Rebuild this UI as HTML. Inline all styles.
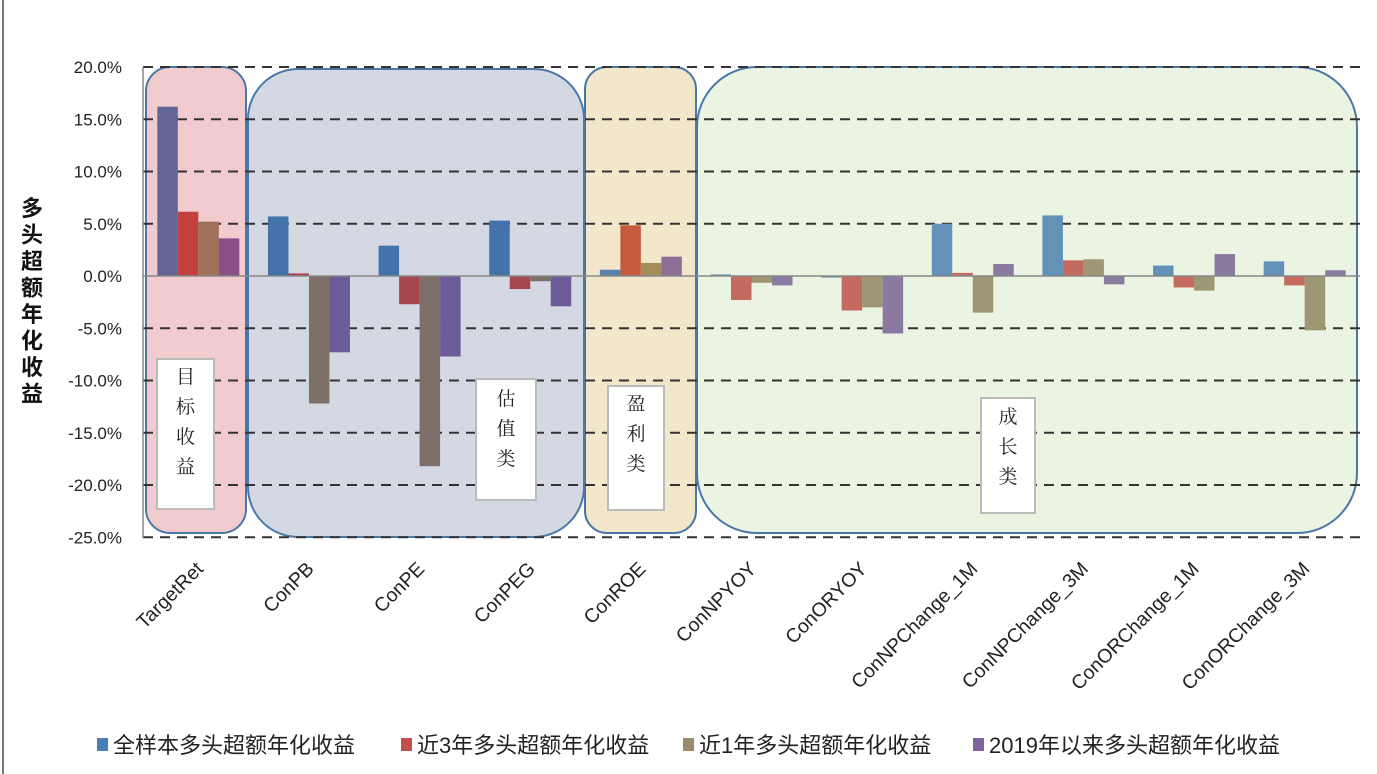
<!DOCTYPE html>
<html><head><meta charset="utf-8"><style>
html,body{margin:0;padding:0;background:#fff;}
svg{display:block;font-family:"Liberation Sans","Noto Sans CJK SC",sans-serif;}
</style></head><body>
<svg id="chart" width="1377" height="774" viewBox="0 0 1377 774">
<line x1="3" y1="0" x2="3" y2="774" stroke="#777" stroke-width="2"/>
<g id="regions"></g>
<g id="grid"></g>
<g id="bars"></g>
<g id="boxes"></g>
<g id="axes"></g>
<g id="legend"></g>
</svg>
<script>
const categories=["TargetRet","ConPB","ConPE","ConPEG","ConROE","ConNPYOY","ConORYOY","ConNPChange_1M","ConNPChange_3M","ConORChange_1M","ConORChange_3M"];
const seriesNames=["全样本多头超额年化收益","近3年多头超额年化收益","近1年多头超额年化收益","2019年以来多头超额年化收益"];
const sAll=[16.2,5.7,2.9,5.3,0.6,0.15,-0.15,5.0,5.8,1.0,1.4];
const s3y=[6.15,0.25,-2.7,-1.25,4.85,-2.3,-3.3,0.3,1.5,-1.1,-0.9];
const s1y=[5.2,-12.2,-18.2,-0.5,1.25,-0.65,-3.0,-3.5,1.6,-1.4,-5.2];
const s2019=[3.6,-7.3,-7.7,-2.9,1.85,-0.9,-5.5,1.15,-0.8,2.1,0.55];
const yTicks=[20,15,10,5,0,-5,-10,-15,-20,-25];
const NS="http://www.w3.org/2000/svg";
const X0=143,X1=1360,Y20=67,Y0=276;
const band=(X1-X0)/categories.length;
function y(v){return Y0-(v)*(Y0-Y20)/20;}
function xc(i){return X0+band*(i+0.5);}
function mk(tag,attrs,parent){const e=document.createElementNS(NS,tag);for(const k in attrs)e.setAttribute(k,attrs[k]);document.getElementById(parent).appendChild(e);return e;}
const regs=[[146,67,100,466,24,"#f2cbcf","region-target-return"],[248,69,336,468,50,"#d3d8e2","region-valuation"],[585,67,111,466,22,"#f2e7cb","region-profitability"],[697,67,660,466,60,"#ebf3e3","region-growth"]];
regs.forEach(r=>{const e=mk("rect",{x:r[0],y:r[1],width:r[2],height:r[3],rx:r[4],fill:r[5],stroke:"#4a78a6","stroke-width":2},"regions");

});
yTicks.forEach(t=>{
 if(t!==0){const g=mk("line",{x1:X0,x2:X1,y1:y(t),y2:y(t),stroke:"#333","stroke-width":2,"stroke-dasharray":"10,7"},"grid");
 
 }
 const l=mk("text",{x:122,y:y(t)+6,"text-anchor":"end","font-size":17,fill:"#222"},"axes");
 l.textContent=t.toFixed(1)+"%";
 
 
});
const ax=mk("line",{x1:X0,x2:X0,y1:Y20,y2:y(-25),stroke:"#888","stroke-width":1.5},"axes");


const series=[sAll,s3y,s1y,s2019];
const colorsByGroup=[
 ["#636596","#c0413e","#a0705a","#8b4e86"],
 ["#4472aa","#a8474e","#7c7068","#6c5b98"],
 ["#5b82a8","#c55a3c","#a58c5a","#8e6e95"],
 ["#6392b8","#c46a5e","#9e9774","#8b7aa0"]];
function grp(i){return i===0?0:(i<4?1:(i===4?2:3));}
const bw=20.5;
categories.forEach((c,i)=>{
 series.forEach((s,k)=>{
  const v=s[i];const x=xc(i)-2*bw+k*bw;
  const b=mk("rect",{x:x,y:Math.min(y(v),Y0),width:bw,height:Math.max(1,Math.abs(y(v)-Y0)),fill:colorsByGroup[grp(i)][k]},"bars");
  
  
 });
 const t=mk("text",{x:0,y:0,"text-anchor":"end","font-size":19.5,fill:"#222",transform:"translate("+(xc(i)+6)+",570) rotate(-45)"},"axes");
 t.textContent=c;
 
 
});
const zl=mk("line",{x1:X0,x2:X1,y1:Y0,y2:Y0,stroke:"#888","stroke-width":1.5},"axes");


const boxes=[[157,359,57,150,"目标收益",383],[476,379,60,121,"估值类",405],[608,386,56,124,"盈利类",410],[981,398,54,115,"成长类",423]];
boxes.forEach((b,j)=>{
 const r=mk("rect",{x:b[0],y:b[1],width:b[2],height:b[3],fill:"#fff",stroke:"#bbb","stroke-width":2},"boxes");
 
 
 [...b[4]].forEach((ch,m)=>{
  const t=mk("text",{x:b[0]+b[2]/2,y:b[5]+m*30,"text-anchor":"middle","font-size":19,fill:"#222","font-family":"Noto Serif CJK SC, serif"},"boxes");
  t.textContent=ch;
  
  
 });
});
[..."多头超额年化收益"].forEach((ch,m)=>{
 const t=mk("text",{x:32,y:216+m*26.5,"text-anchor":"middle","font-size":22,"font-weight":"bold",fill:"#111"},"axes");
 t.textContent=ch;
 
 
});
const lx=[97,401,683,973];const lc=["#4a7ebb","#c0504d","#9b8a6e","#7f63a0"];
seriesNames.forEach((n,k)=>{
 const s=mk("rect",{x:lx[k],y:738,width:11,height:13,fill:lc[k]},"legend");
 
 
 const t=mk("text",{x:lx[k]+16,y:753,"font-size":22,fill:"#222"},"legend");
 t.textContent=n;
 
 
});
</script>
</body></html>
